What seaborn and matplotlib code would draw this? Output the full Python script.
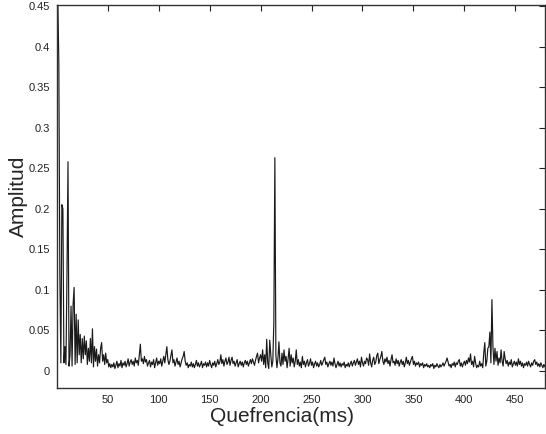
import numpy as np
import pandas as pd
import seaborn as sns
import matplotlib
matplotlib.use("Agg")
import matplotlib.pyplot as plt

# cepstrum amplitude, 1 ms per sample starting at 1 ms
amplitud = [
    # 1-20
    0.46, 0.38, 0.12, 0.01, 0.205, 0.20, 0.01, 0.03, 0.008, 0.12,
    0.258, 0.006, 0.02, 0.08, 0.006, 0.082, 0.103, 0.008, 0.07, 0.01,
    # 21-40
    0.063, 0.02, 0.045, 0.01, 0.04, 0.015, 0.043, 0.02, 0.037, 0.008,
    0.028, 0.012, 0.04, 0.01, 0.052, 0.005, 0.03, 0.012, 0.027, 0.006,
    # 41-60
    0.02, 0.01, 0.028, 0.035, 0.012, 0.02, 0.008, 0.022, 0.01, 0.014,
    0.005, 0.009, 0.004, 0.008, 0.005, 0.01, 0.003, 0.007, 0.012, 0.004,
    # 61-80
    0.009, 0.006, 0.013, 0.004, 0.01, 0.007, 0.012, 0.005, 0.009, 0.015,
    0.006, 0.011, 0.014, 0.008, 0.012, 0.006, 0.016, 0.01, 0.013, 0.007,
    # 81-100
    0.02, 0.033, 0.012, 0.015, 0.009, 0.018, 0.011, 0.014, 0.006, 0.01,
    0.013, 0.005, 0.011, 0.008, 0.014, 0.004, 0.01, 0.016, 0.007, 0.012,
    # 101-120
    0.009, 0.015, 0.006, 0.012, 0.018, 0.01, 0.02, 0.03, 0.014, 0.008,
    0.012, 0.019, 0.026, 0.01, 0.014, 0.006, 0.011, 0.016, 0.008, 0.012,
    # 121-140
    0.005, 0.01, 0.015, 0.018, 0.024, 0.012, 0.007, 0.01, 0.004, 0.008,
    0.006, 0.011, 0.005, 0.009, 0.004, 0.008, 0.013, 0.006, 0.01, 0.005,
    # 141-160
    0.008, 0.012, 0.004, 0.009, 0.007, 0.011, 0.005, 0.01, 0.006, 0.013,
    0.008, 0.004, 0.01, 0.007, 0.012, 0.005, 0.009, 0.014, 0.008, 0.011,
    # 161-180
    0.02, 0.009, 0.014, 0.006, 0.012, 0.016, 0.008, 0.011, 0.017, 0.007,
    0.013, 0.017, 0.009, 0.012, 0.006, 0.01, 0.014, 0.005, 0.009, 0.012,
    # 181-200
    0.007, 0.011, 0.005, 0.01, 0.013, 0.008, 0.012, 0.006, 0.01, 0.014,
    0.009, 0.015, 0.011, 0.007, 0.013, 0.018, 0.022, 0.01, 0.016, 0.02,
    # 201-220
    0.012, 0.026, 0.008, 0.02, 0.004, 0.039, 0.01, 0.003, 0.038, 0.02,
    0.005, 0.012, 0.06, 0.263, 0.02, 0.004, 0.015, 0.036, 0.01, 0.006,
    # 221-240
    0.022, 0.008, 0.026, 0.012, 0.018, 0.004, 0.015, 0.028, 0.006, 0.02,
    0.01, 0.016, 0.005, 0.012, 0.026, 0.008, 0.014, 0.006, 0.011, 0.004,
    # 241-260
    0.018, 0.008, 0.012, 0.005, 0.01, 0.014, 0.006, 0.009, 0.015, 0.007,
    0.011, 0.004, 0.009, 0.012, 0.006, 0.01, 0.005, 0.008, 0.013, 0.007,
    # 261-280
    0.01, 0.014, 0.017, 0.008, 0.011, 0.005, 0.009, 0.012, 0.007, 0.011,
    0.006, 0.016, 0.009, 0.004, 0.008, 0.012, 0.006, 0.01, 0.005, 0.009,
    # 281-300
    0.007, 0.011, 0.004, 0.008, 0.006, 0.01, 0.005, 0.009, 0.012, 0.006,
    0.01, 0.013, 0.007, 0.011, 0.015, 0.008, 0.012, 0.005, 0.017, 0.01,
    # 301-320
    0.006, 0.012, 0.009, 0.016, 0.014, 0.007, 0.021, 0.01, 0.005, 0.013,
    0.017, 0.008, 0.011, 0.019, 0.022, 0.009, 0.014, 0.018, 0.024, 0.012,
    # 321-340
    0.008, 0.015, 0.011, 0.017, 0.009, 0.013, 0.006, 0.014, 0.02, 0.01,
    0.012, 0.007, 0.015, 0.009, 0.013, 0.006, 0.011, 0.014, 0.008, 0.012,
    # 341-360
    0.005, 0.01, 0.017, 0.009, 0.013, 0.007, 0.011, 0.015, 0.018, 0.008,
    0.012, 0.006, 0.01, 0.008, 0.011, 0.005, 0.009, 0.007, 0.01, 0.004,
    # 361-380
    0.008, 0.006, 0.009, 0.005, 0.007, 0.004, 0.008, 0.006, 0.009, 0.003,
    0.007, 0.005, 0.009, 0.006, 0.004, 0.008, 0.005, 0.007, 0.01, 0.006,
    # 381-400
    0.009, 0.012, 0.016, 0.011, 0.006, 0.008, 0.004, 0.009, 0.007, 0.011,
    0.005, 0.01, 0.008, 0.012, 0.014, 0.006, 0.01, 0.005, 0.009, 0.012,
    # 401-420
    0.007, 0.013, 0.009, 0.016, 0.011, 0.021, 0.008, 0.012, 0.005, 0.018,
    0.01, 0.004, 0.007, 0.005, 0.012, 0.006, 0.009, 0.004, 0.022, 0.035,
    # 421-440
    0.006, 0.012, 0.028, 0.03, 0.048, 0.01, 0.088, 0.03, 0.008, 0.028,
    0.012, 0.024, 0.007, 0.016, 0.01, 0.026, 0.012, 0.006, 0.024, 0.015,
    # 441-460
    0.009, 0.013, 0.006, 0.011, 0.008, 0.014, 0.005, 0.009, 0.012, 0.007,
    0.011, 0.006, 0.015, 0.008, 0.012, 0.006, 0.01, 0.004, 0.009, 0.007,
    # 461-479
    0.011, 0.006, 0.012, 0.008, 0.005, 0.01, 0.007, 0.012, 0.014, 0.008,
    0.011, 0.006, 0.009, 0.005, 0.01, 0.007, 0.004, 0.008, 0.005,
]
quefrencia = list(range(1, len(amplitud) + 1))

xticks = [50, 100, 150, 200, 250, 300, 350, 400, 450]
yticks = [0, 0.05, 0.1, 0.15, 0.2, 0.25, 0.3, 0.35, 0.4, 0.45]
ytick_labels = ["0", "0.05", "0.1", "0.15", "0.2", "0.25", "0.3", "0.35", "0.4", "0.45"]

df = pd.DataFrame({"Quefrencia": quefrencia, "Amplitud": amplitud})

sns.set_style("white")
plt.rcParams["font.family"] = ["Liberation Sans", "DejaVu Sans"]

fig = plt.figure(figsize=(5.46, 4.34), dpi=100)
ax = fig.add_axes([0.104, 0.106, 0.894, 0.882])

sns.lineplot(data=df, x="Quefrencia", y="Amplitud", ax=ax, color="#1a1a1a",
             linewidth=0.85, estimator=None, sort=False)

ax.set_xlim(0, 479)
ax.set_ylim(-0.021, 0.451)
ax.set_xticks(xticks)
ax.set_yticks(yticks)
ax.set_yticklabels(ytick_labels)
ax.tick_params(direction="in", length=4, width=0.8, labelsize=8,
               top=True, right=True, colors="#222222", pad=5)
ax.tick_params(axis="x", pad=5)

for s in ax.spines.values():
    s.set_color("#333333")
    s.set_linewidth(1.0)

ax.set_xlabel("Quefrencia(ms)", fontsize=15, labelpad=0)
ax.xaxis.set_label_coords((283 - 57) / 489, -0.05)
ax.set_ylabel("Amplitud", fontsize=15)
ax.yaxis.set_label_coords(-0.06, 0.5)

fig.savefig("out.png", dpi=100)
